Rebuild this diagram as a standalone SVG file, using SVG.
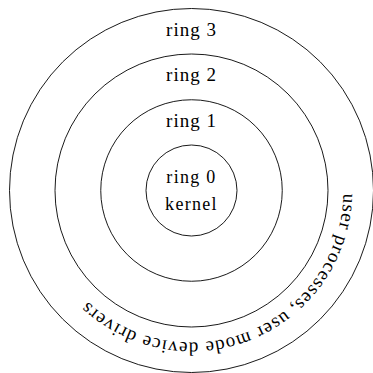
<svg xmlns="http://www.w3.org/2000/svg" width="373" height="373" viewBox="0 0 373 373">
  <style>
    .ring { fill: none; stroke: #000; stroke-width: 0.9; }
    .lbl { font-family: "Liberation Serif", "Times New Roman", serif; font-size: 19px; fill: #000; text-anchor: middle; letter-spacing: 1px; }
    .sm { font-size: 18px; letter-spacing: 1.3px; }
    .arc { font-family: "Liberation Serif", "Times New Roman", serif; font-size: 19px; fill: #000; letter-spacing: 1.05px; }
  </style>
  <defs>
    <path id="textArc" d="M 343.5 190.5 A 152 152 0 0 1 39.5 190.5 A 152 152 0 0 1 343.5 190.5"/>
  </defs>
  <g id="ring3">
    <circle class="ring" cx="191.5" cy="190.5" r="182"/>
    <text class="lbl" x="191.5" y="36">ring 3</text>
    <text class="arc"><textPath href="#textArc" startOffset="3">user processes,</textPath></text>
    <text class="arc"><textPath href="#textArc" startOffset="138">user mode device drivers</textPath></text>
  </g>
  <g id="ring2">
    <circle class="ring" cx="191.5" cy="190.5" r="136.5"/>
    <text class="lbl" x="191.5" y="81">ring 2</text>
  </g>
  <g id="ring1">
    <circle class="ring" cx="191.5" cy="190.5" r="90.75"/>
    <text class="lbl" x="191.5" y="127">ring 1</text>
  </g>
  <g id="ring0">
    <circle class="ring" cx="191.5" cy="190.5" r="45.5"/>
    <text class="lbl sm" x="191.5" y="183">ring 0</text>
    <text class="lbl sm" x="191.5" y="210">kernel</text>
  </g>
</svg>
